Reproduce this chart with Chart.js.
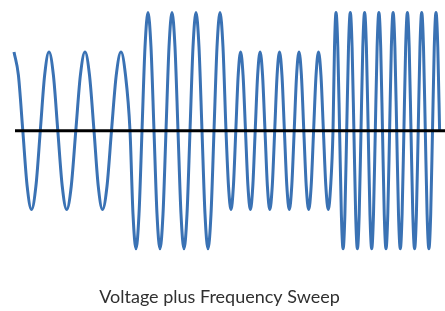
<!DOCTYPE html>
<html>
<head>
<meta charset="utf-8">
<script src="https://cdn.jsdelivr.net/npm/chart.js@4/dist/chart.umd.min.js"></script>
<style>
  html, body { margin: 0; padding: 0; background: #ffffff; }
  #c { display: block; }
</style>
</head>
<body>
<canvas id="c" width="445" height="311"></canvas>
<script>
// Waveform points (time in ms, voltage in V), one array pair per sweep section
const sweep1Time = [0, 4.4, 8.8, 13.15, 17.5, 21.9, 26.3, 30.65, 35, 39.4, 43.8, 48.25, 52.7, 57.25,
  61.8, 66.4, 71, 75.5, 80, 84.25, 88.5, 93, 97.5, 102.25, 107, 111.5, 116];
const sweep1Volt = [2, 1.41, 0, -1.41, -2, -1.41, 0, 1.41, 2, 1.41, 0, -1.41, -2, -1.41,
  0, 1.41, 2, 1.41, 0, -1.41, -2, -1.41, 0, 1.41, 2, 1.41, 0];

const sweep2Time = [119, 122, 125, 128, 131, 134, 137, 140, 143, 146, 149, 152, 155, 158, 161, 164,
  167, 170, 173, 176, 179, 182, 185, 188, 191, 194, 197, 200, 203, 206, 209, 212];
const sweep2Volt = [-2.12, -3, -2.12, 0, 2.12, 3, 2.12, 0, -2.12, -3, -2.12, 0, 2.12, 3, 2.12, 0,
  -2.12, -3, -2.12, 0, 2.12, 3, 2.12, 0, -2.12, -3, -2.12, 0, 2.12, 3, 2.12, 0];

const sweep3Time = [214.5, 217, 219.4, 221.8, 224.2, 226.6, 229.05, 231.5, 233.95, 236.4, 238.8, 241.2,
  243.65, 246.1, 248.55, 251, 253.4, 255.8, 258.25, 260.7, 263.1, 265.5, 267.95, 270.4, 272.85, 275.3,
  277.75, 280.2, 282.6, 285, 287.4, 289.8, 292.25, 294.7, 297.15, 299.6, 302.05, 304.5, 306.95, 309.4,
  311.85, 314.3, 316.65, 319];
const sweep3Volt = [-1.41, -2, -1.41, 0, 1.41, 2, 1.41, 0, -1.41, -2, -1.41, 0,
  1.41, 2, 1.41, 0, -1.41, -2, -1.41, 0, 1.41, 2, 1.41, 0, -1.41, -2,
  -1.41, 0, 1.41, 2, 1.41, 0, -1.41, -2, -1.41, 0, 1.41, 2, 1.41, 0,
  -1.41, -2, -1.41, 0];

const sweep4Time = [320.5, 322, 323.8, 325.6, 327.35, 329.1, 330.9, 332.7, 334.5, 336.3, 338.1, 339.9,
  341.65, 343.4, 345.2, 347, 348.8, 350.6, 352.4, 354.2, 355.95, 357.7, 359.5, 361.3, 363.1, 364.9,
  366.7, 368.5, 370.25, 372, 373.8, 375.6, 377.35, 379.1, 380.9, 382.7, 384.5, 386.3, 388.1, 389.9,
  391.65, 393.4, 395.2, 397, 398.8, 400.6, 402.4, 404.2, 405.95, 407.7, 409.5, 411.3, 413.1, 414.9,
  416.7, 418.5, 420.25, 422, 423.8, 425.6, 427.35, 429.1];
const sweep4Volt = [2.12, 3, 2.12, 0, -2.12, -3, -2.12, 0, 2.12, 3, 2.12, 0,
  -2.12, -3, -2.12, 0, 2.12, 3, 2.12, 0, -2.12, -3, -2.12, 0, 2.12, 3,
  2.12, 0, -2.12, -3, -2.12, 0, 2.12, 3, 2.12, 0, -2.12, -3, -2.12, 0,
  2.12, 3, 2.12, 0, -2.12, -3, -2.12, 0, 2.12, 3, 2.12, 0, -2.12, -3,
  -2.12, 0, 2.12, 3, 2.12, 0, -2.12, -3];

const axisTimes = [1, 431];
const axisValues = [0, 0];
const titleText = 'Voltage plus Frequency Sweep';

const timeMs = [].concat(sweep1Time, sweep2Time, sweep3Time, sweep4Time);
const voltage = [].concat(sweep1Volt, sweep2Volt, sweep3Volt, sweep4Volt);
const wavePoints = timeMs.map((t, i) => ({ x: t, y: voltage[i] }));
const axisPoints = axisTimes.map((t, i) => ({ x: t, y: axisValues[i] }));

new Chart(document.getElementById('c'), {
  type: 'line',
  data: {
    datasets: [
      {
        data: axisPoints,
        borderColor: '#000000',
        borderWidth: 3,
        pointRadius: 0,
        tension: 0,
        clip: false
      },
      {
        data: wavePoints,
        borderColor: 'rgb(58,114,180)',
        borderWidth: 3,
        pointRadius: 0,
        cubicInterpolationMode: 'monotone',
        clip: false
      }
    ]
  },
  options: {
    responsive: false,
    animation: false,
    devicePixelRatio: 1,
    layout: { padding: { left: 0, right: 6, top: 0, bottom: 0 } },
    scales: {
      x: { type: 'linear', min: -14, max: 425, display: false },
      y: { min: -3.32, max: 3.32, display: false }
    },
    plugins: {
      legend: { display: false },
      tooltip: { enabled: false },
      title: {
        display: true,
        text: titleText,
        position: 'bottom',
        color: '#303030',
        font: { family: 'Lato', size: 18, weight: 'normal' },
        padding: { top: 25, bottom: 3 }
      }
    }
  }
});
</script>
</body>
</html>
